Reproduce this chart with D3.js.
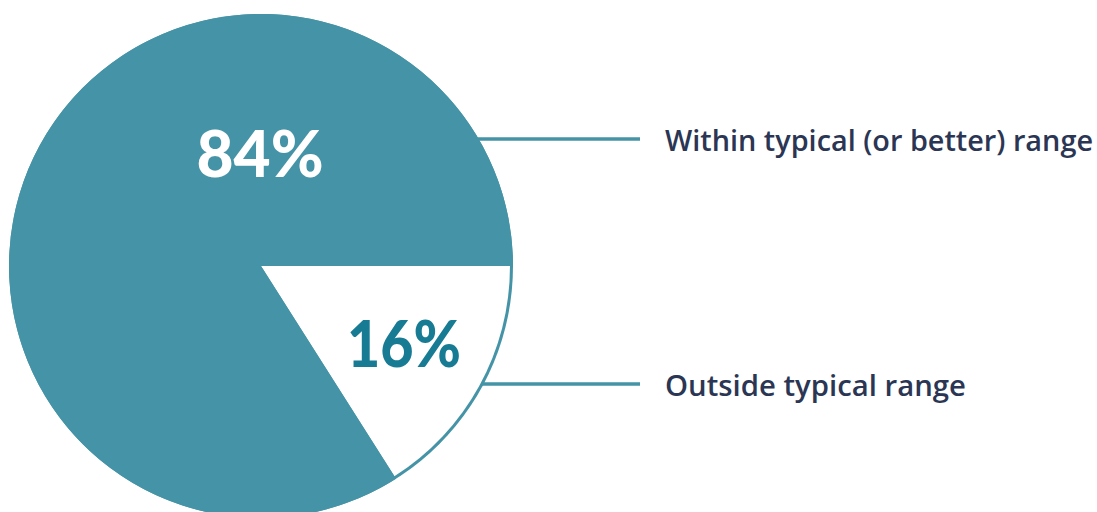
<!DOCTYPE html>
<html><head><meta charset="utf-8">
<script src="https://cdn.jsdelivr.net/npm/d3@7"></script>
<style>html,body{margin:0;padding:0;background:#fff;}svg{display:block;}</style>
</head><body>
<svg id="chart" width="1097" height="512"></svg>
<script>
const categories = ["Outside typical range", "Within typical (or better) range"];
const values = [16, 84];
const valueLabels = ["16%", "84%"];

const svg = d3.select("#chart");
const cx = 261, cy = 266, R = 252;
const teal = "#4593a6";
const g = svg.append("g").attr("transform", `translate(${cx},${cy})`);

const pie = d3.pie().sort(null).startAngle(Math.PI/2).endAngle(Math.PI/2 + 2*Math.PI);
const arcs = pie(values);

g.append("circle").attr("r", R).attr("fill", teal);
const arcOuter = d3.arc().innerRadius(0).outerRadius(R);
const arcInner = d3.arc().innerRadius(0).outerRadius(R - 3);
g.selectAll("path.slice").data(arcs).join("path")
  .attr("class","slice")
  .attr("d", (d,i) => i === 0 ? arcInner(d) : arcOuter(d))
  .attr("fill", (d,i) => i === 0 ? "#ffffff" : teal);

const labelPos = [[404, 342], [260, 152]];
g.selectAll("text.val").data(arcs).join("text")
  .attr("class","val")
  .attr("x", (d,i) => labelPos[i][0] - cx)
  .attr("y", (d,i) => labelPos[i][1] - cy)
  .attr("text-anchor","middle").attr("dominant-baseline","central")
  .attr("font-family","Lato, 'Open Sans', sans-serif").attr("font-weight",900)
  .attr("font-size", 64)
  .attr("fill", (d,i) => i === 0 ? "#177b94" : "#ffffff")
  .each(function(d,i){ if (i === 0) d3.select(this).attr("textLength", 114).attr("lengthAdjust","spacingAndGlyphs"); })
  .text((d,i) => valueLabels[i]);

const lineY = [384, 139];
const labelLen = [301, 428];
const lineEnd = 640;
categories.forEach((c,i) => {
  const dy = lineY[i] - cy;
  const x0 = cx + Math.sqrt(R*R - dy*dy) - 2;
  svg.append("line").attr("x1", x0).attr("x2", lineEnd)
    .attr("y1", lineY[i]).attr("y2", lineY[i])
    .attr("stroke", teal).attr("stroke-width", 3.5);
  svg.append("text").attr("x", 665).attr("y", lineY[i])
    .attr("dominant-baseline","central")
    .attr("font-family","'Open Sans', Lato, sans-serif").attr("font-weight",600)
    .attr("font-size", 29).attr("fill","#2b3654")
    .attr("textLength", labelLen[i]).attr("lengthAdjust","spacingAndGlyphs")
    .text(c);
});
</script>
</body></html>
